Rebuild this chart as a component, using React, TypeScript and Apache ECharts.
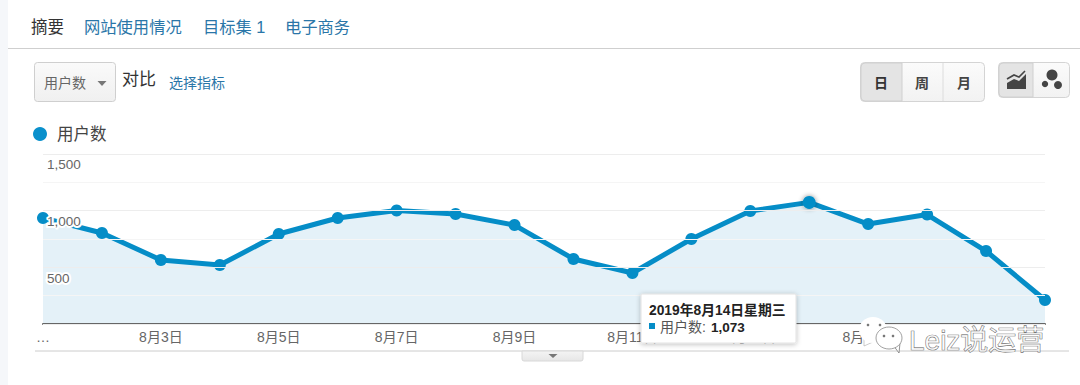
import React, { useEffect, useRef } from "react";
import * as echarts from "echarts";

const dayLabels = ["…", "8月2日", "8月3日", "8月4日", "8月5日", "8月6日", "8月7日", "8月8日", "8月9日", "8月10日", "8月11日", "8月12日", "8月13日", "8月14日", "8月15日", "8月16日", "8月17日", "8月18日"];
const users = [935, 803, 565, 520, 794, 935, 1001, 970, 873, 574, 450, 750, 997, 1073, 882, 966, 644, 212];
const tabs = ["网站使用情况", "目标集 1", "电子商务"];
const periodButtons = ["日", "周", "月"];
const seriesName = "用户数";
const tooltipTitle = "2019年8月14日星期三";
const tooltipValue = "1,073";

const FONT = '"Liberation Sans","Noto Sans CJK SC",sans-serif';
const BLUE = "#058dc7";
const LINK = "#2a76a8";

const txt = (text: string, x: number, y: number, fontSize: number, fill: string, extra: any = {}) => ({
  type: "text",
  x,
  y,
  style: { text, fontSize, fill, fontFamily: FONT, verticalAlign: "middle", align: "left", ...extra },
});
const grad = (a: string, b: string) => ({
  type: "linear", x: 0, y: 0, x2: 0, y2: 1,
  colorStops: [{ offset: 0, color: a }, { offset: 1, color: b }],
});
const box = (x: number, y: number, width: number, height: number, fill: any, stroke: any = "#d0d0d0", r: any = 0, extra: any = {}) => ({
  type: "rect",
  shape: { x, y, width, height, r },
  style: { fill, stroke, lineWidth: stroke === "none" ? 0 : 1, ...extra },
});
const caret = (cx: number, y: number, w: number, h: number, fill: string) => ({
  type: "polygon",
  shape: { points: [[cx - w / 2, y], [cx + w / 2, y], [cx, y + h]] },
  style: { fill },
});
const atZ = (items: any[], z: number) => items.map((el, i) => ({ ...el, z: z + i * 0.01 }));

const chrome: any[] = [
  box(0, 0, 8, 385, "#f5f7fa", "none"),
  txt("摘要", 31, 27, 16.5, "#333"),
  txt(tabs[0], 84, 27, 16.3, LINK),
  txt(tabs[1], 203, 27, 16.3, LINK),
  txt(tabs[2], 285, 27, 16.3, LINK),
  { type: "line", shape: { x1: 8, y1: 48.5, x2: 1080, y2: 48.5 }, style: { stroke: "#cfcfcf", lineWidth: 1 } },

  box(34.5, 62.5, 81, 39, grad("#fafafa", "#f0f0f0"), "#cfcfcf", 3),
  txt(seriesName, 44, 83, 14, "#666"),
  caret(102, 81, 9, 5, "#777"),
  txt("对比", 122, 79, 17, "#333"),
  txt("选择指标", 169, 83, 14, LINK),

  box(860.5, 62.5, 124, 39, grad("#fbfbfb", "#f2f2f2"), "#d4d4d4", 4),
  box(861, 63, 41, 38, "#e4e4e4", "#d0d0d0", [4, 0, 0, 4]),
  { type: "line", shape: { x1: 943, y1: 63, x2: 943, y2: 101 }, style: { stroke: "#dcdcdc", lineWidth: 1 } },
  txt(periodButtons[0], 874, 83, 14, "#333", { fontWeight: "bold" }),
  txt(periodButtons[1], 915, 83, 14, "#444", { fontWeight: "bold" }),
  txt(periodButtons[2], 957, 83, 14, "#444", { fontWeight: "bold" }),

  box(998.5, 62.5, 71, 35, grad("#fbfbfb", "#f2f2f2"), "#d4d4d4", 4),
  box(999, 63, 34, 34, "#e4e4e4", "#d0d0d0", [4, 0, 0, 4]),
  { type: "polygon", shape: { points: [[1007, 89], [1007, 83], [1014, 79], [1019, 81], [1026, 74], [1026, 89]] }, style: { fill: "#444" } },
  { type: "polyline", shape: { points: [[1007, 79], [1014, 75], [1019, 77], [1025, 71]] }, style: { stroke: "#444", lineWidth: 1.6, fill: "none" } },
  { type: "circle", shape: { cx: 1052, cy: 75, r: 5.5 }, style: { fill: "#444" } },
  { type: "circle", shape: { cx: 1045, cy: 84, r: 3.2 }, style: { fill: "#444" } },
  { type: "circle", shape: { cx: 1058, cy: 85, r: 4 }, style: { fill: "#444" } },

  { type: "circle", shape: { cx: 40, cy: 134, r: 7 }, style: { fill: "#0a90cc" } },
  txt(seriesName, 57, 134, 16.5, "#444"),

  { type: "line", shape: { x1: 35, y1: 351, x2: 1069, y2: 351 }, style: { stroke: "#cccccc", lineWidth: 1 } },
  box(522, 351, 61, 10, grad("#f4f4f4", "#e6e6e6"), "#d8d8d8", [0, 0, 2, 2]),
  caret(553, 354, 9, 4, "#777"),
];

const tooltip: any[] = [
  box(641, 294, 155, 49, "#fff", "#e2e2e2", 1, { shadowBlur: 5, shadowColor: "rgba(0,0,0,0.25)", shadowOffsetX: 0, shadowOffsetY: 1 }),
  txt(tooltipTitle, 649, 310, 13.8, "#222", { fontWeight: "bold" }),
  box(649, 323, 6, 6, BLUE, "none"),
  txt(seriesName + ":", 660, 327, 14, "#555"),
  txt(tooltipValue, 711, 327, 13.5, "#222", { fontWeight: "bold" }),
];

const watermark: any[] = [
  { type: "polygon", shape: { points: [[864, 338], [864, 346], [873, 342]] }, style: { fill: "#fff", stroke: "#aaa", lineWidth: 0.6 } },
  { type: "ellipse", shape: { cx: 873, cy: 330, rx: 14, ry: 13 }, style: { fill: "#fff" } },
  { type: "circle", shape: { cx: 868, cy: 325, r: 1.3 }, style: { fill: "#777" } },
  { type: "circle", shape: { cx: 880, cy: 325, r: 1.3 }, style: { fill: "#777" } },
  { type: "polygon", shape: { points: [[893, 345], [899, 353], [900, 343]] }, style: { fill: "#fff", stroke: "#777", lineWidth: 0.8 } },
  { type: "ellipse", shape: { cx: 889, cy: 338, rx: 13, ry: 11 }, style: { fill: "#fff", stroke: "#888", lineWidth: 0.8 } },
  { type: "circle", shape: { cx: 884, cy: 336, r: 1.3 }, style: { fill: "#777" } },
  { type: "circle", shape: { cx: 893, cy: 336, r: 1.3 }, style: { fill: "#777" } },
  txt("Leiz说运营", 909, 340, 28, "rgba(255,255,255,0.6)", { stroke: "#555", lineWidth: 0.7 }),
];

export default function App() {
  const ref = useRef<HTMLDivElement>(null);
  useEffect(() => {
    document.body.style.margin = "0";
    document.body.style.background = "#fff";
    const chart = echarts.init(ref.current!, undefined, { renderer: "svg" });
    chart.setOption({
      animation: false,
      backgroundColor: "#fff",
      textStyle: { fontFamily: FONT },
      grid: { left: 43, right: 35, top: 154, bottom: 61, containLabel: false },
      xAxis: {
        type: "category",
        boundaryGap: false,
        data: dayLabels,
        axisLine: { lineStyle: { color: "#666", width: 2 } },
        axisTick: { show: false },
        axisLabel: {
          interval: 1, color: "#666", fontSize: 14, margin: 6, fontFamily: FONT,
          showMinLabel: true, showMaxLabel: false,
        },
        splitLine: { show: false },
        z: 3,
      },
      yAxis: {
        type: "value",
        min: 0,
        max: 1500,
        interval: 500,
        axisLine: { show: false },
        axisTick: { show: false },
        minorTick: { show: false, splitNumber: 2 },
        splitLine: { lineStyle: { color: "#ededed", width: 1 } },
        minorSplitLine: { show: true, lineStyle: { color: "#f5f5f5", width: 1 } },
        axisLabel: {
          inside: true,
          margin: 4,
          align: "left",
          verticalAlign: "top",
          padding: [4, 0, 0, 0],
          color: "#666",
          fontSize: 13.5,
          fontFamily: FONT,
          textBorderColor: "#fff",
          textBorderWidth: 4,
          formatter: (v: number) => (v === 0 ? "" : v.toLocaleString("en-US")),
        },
        z: 4,
      },
      series: [
        {
          type: "line",
          name: seriesName,
          data: users.map((value, i) =>
            i === 13
              ? { value, symbolSize: 13, itemStyle: { shadowBlur: 5, shadowColor: "rgba(0,0,0,0.45)" } }
              : value
          ),
          smooth: false,
          clip: false,
          symbol: "circle",
          symbolSize: 12,
          showAllSymbol: true,
          lineStyle: { color: BLUE, width: 5 },
          itemStyle: { color: BLUE },
          areaStyle: { color: "#e4f1f8", opacity: 1 },
          z: 2,
        },
      ],
      graphic: [
        ...atZ(chrome, 1),
        ...atZ(tooltip, 50),
        ...atZ(watermark, 60),
      ],
    });
    return () => chart.dispose();
  }, []);
  return <div ref={ref} style={{ width: 1080, height: 385 }} />;
}
